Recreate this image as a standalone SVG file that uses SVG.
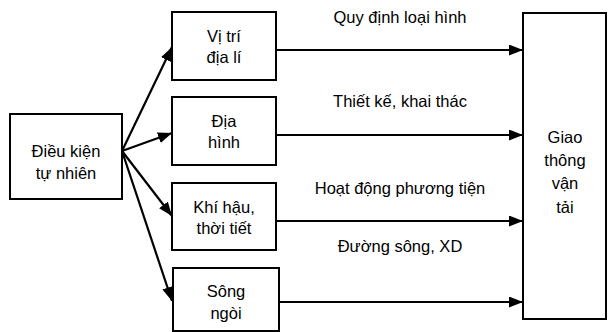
<svg xmlns="http://www.w3.org/2000/svg" width="610" height="332" viewBox="0 0 610 332">
<style>
.box{fill:#fff;stroke:#000;stroke-width:2}
.t{font-family:"Liberation Sans",Arial,sans-serif;font-size:16.5px;fill:#000;text-anchor:middle}
.c{stroke:#000;stroke-width:2.2;fill:none}
</style>
<defs>
<marker id="ah" markerWidth="14" markerHeight="11" refX="14" refY="5.5" orient="auto" markerUnits="userSpaceOnUse">
<path d="M0,0 L14,5.5 L0,11 Z" fill="#000"/>
</marker>
</defs>
<rect width="610" height="332" fill="#fff"/>
<g id="connectors">
<line class="c" x1="122" y1="151" x2="172" y2="47" marker-end="url(#ah)"/>
<line class="c" x1="122" y1="151" x2="172" y2="133" marker-end="url(#ah)"/>
<line class="c" x1="122" y1="151" x2="172" y2="216" marker-end="url(#ah)"/>
<line class="c" x1="122" y1="151" x2="172" y2="301" marker-end="url(#ah)"/>
<line class="c" x1="276" y1="50" x2="523" y2="50" marker-end="url(#ah)"/>
<line class="c" x1="276" y1="135" x2="523" y2="135" marker-end="url(#ah)"/>
<line class="c" x1="276" y1="221" x2="523" y2="221" marker-end="url(#ah)"/>
<line class="c" x1="279" y1="302" x2="523" y2="302" marker-end="url(#ah)"/>
<text class="t" x="400" y="23">Quy định loại hình</text>
<text class="t" x="400" y="107">Thiết kế, khai thác</text>
<text class="t" x="400" y="194">Hoạt động phương tiện</text>
<text class="t" x="400" y="252">Đường sông, XD</text>
</g>
<g id="dieu-kien">
<rect class="box" x="10" y="114" width="112" height="85"/>
<text class="t" x="66" y="157">Điều kiện</text>
<text class="t" x="66" y="179">tự nhiên</text>
</g>
<g id="vi-tri">
<rect class="box" x="172" y="12" width="104" height="68"/>
<text class="t" x="224" y="42">Vị trí</text>
<text class="t" x="224" y="63">địa lí</text>
</g>
<g id="dia-hinh">
<rect class="box" x="172" y="97" width="104" height="68"/>
<text class="t" x="224" y="127">Địa</text>
<text class="t" x="224" y="148">hình</text>
</g>
<g id="khi-hau">
<rect class="box" x="172" y="183" width="104" height="67"/>
<text class="t" x="224" y="213">Khí hậu,</text>
<text class="t" x="224" y="234">thời tiết</text>
</g>
<g id="song-ngoi">
<rect class="box" x="173" y="268" width="106" height="63"/>
<text class="t" x="226" y="297">Sông</text>
<text class="t" x="226" y="319">ngòi</text>
</g>
<g id="giao-thong">
<rect class="box" x="523" y="13" width="83" height="306"/>
<text class="t" x="565" y="143">Giao</text>
<text class="t" x="565" y="166">thông</text>
<text class="t" x="565" y="189">vận</text>
<text class="t" x="565" y="213">tải</text>
</g>
</svg>
